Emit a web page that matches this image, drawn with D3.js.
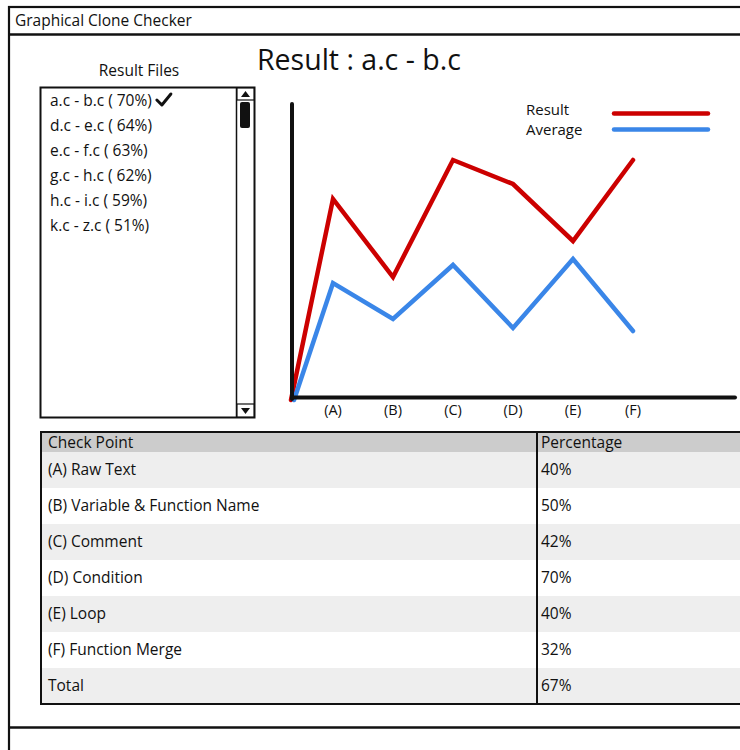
<!DOCTYPE html>
<html><head><meta charset="utf-8">
<script src="https://cdn.jsdelivr.net/npm/d3@7/dist/d3.min.js"></script>
<style>
html,body{margin:0;padding:0;background:#fff;}
svg text{font-family:"Open Sans","Noto Sans",sans-serif;fill:#111;}
</style></head>
<body><svg id="c" width="740" height="750"></svg>
<script>
const appTitle = "Graphical Clone Checker";
const chartTitle = "Result : a.c - b.c";
const fileListTitle = "Result Files";
const resultFiles = ["a.c - b.c ( 70%)", "d.c - e.c ( 64%)", "e.c - f.c ( 63%)", "g.c - h.c ( 62%)", "h.c - i.c ( 59%)", "k.c - z.c ( 51%)"];
const categories = ["(A)", "(B)", "(C)", "(D)", "(E)", "(F)"];
const resultValues = [67, 41, 80, 72, 53, 80];
const averageValues = [39, 27, 45, 24, 47, 23];
const seriesNames = ["Result", "Average"];
const seriesColors = ["#cc0000", "#3a86e8"];
const tableHeaders = ["Check Point", "Percentage"];
const checkPoints = ["(A) Raw Text", "(B) Variable & Function Name", "(C) Comment", "(D) Condition", "(E) Loop", "(F) Function Merge", "Total"];
const percentages = ["40%", "50%", "42%", "70%", "40%", "32%", "67%"];

const svg = d3.select("#c");
const FS = 15.5;

// window frame
svg.append("rect").attr("x",9).attr("y",7).attr("width",760).attr("height",800)
  .attr("fill","none").attr("stroke","#111").attr("stroke-width",2.2);
svg.append("line").attr("x1",9).attr("x2",740).attr("y1",34.5).attr("y2",34.5).attr("stroke","#111").attr("stroke-width",2.5);
svg.append("line").attr("x1",9).attr("x2",740).attr("y1",727.5).attr("y2",727.5).attr("stroke","#111").attr("stroke-width",2.5);
svg.append("text").attr("x",15).attr("y",26).attr("font-size",FS).text(appTitle);

// title
svg.append("text").attr("x",257).attr("y",70).attr("font-size",28.5).text(chartTitle);

// file list
svg.append("text").attr("x",139).attr("y",76).attr("font-size",FS).attr("text-anchor","middle").text(fileListTitle);
svg.append("rect").attr("x",40.5).attr("y",87.5).attr("width",214).attr("height",330)
  .attr("fill","#fff").attr("stroke","#111").attr("stroke-width",2);
svg.append("line").attr("x1",236.5).attr("x2",236.5).attr("y1",88).attr("y2",417).attr("stroke","#111").attr("stroke-width",1.5);
svg.append("rect").attr("x",237).attr("y",88).attr("width",17).attr("height",12).attr("fill","#fff").attr("stroke","#111").attr("stroke-width",1.2);
svg.append("path").attr("d","M241,97 L245.5,91 L250,97 Z").attr("fill","#111");
svg.append("rect").attr("x",240).attr("y",102).attr("width",10).attr("height",26).attr("rx",2).attr("fill","#111");
svg.append("rect").attr("x",237).attr("y",404).attr("width",17).attr("height",13).attr("fill","#fff").attr("stroke","#111").attr("stroke-width",1.2);
svg.append("path").attr("d","M241,408 L250,408 L245.5,414 Z").attr("fill","#111");
const listY = d3.scaleLinear().domain([0,1]).range([106, 131]);
const items = svg.append("g").selectAll("text").data(resultFiles).join("text")
  .attr("x",50).attr("y",(d,i)=>listY(i)).attr("font-size",FS).text(d=>d);
// check mark after first item
const w0 = items.node().getComputedTextLength();
const cx = 50 + w0 + 5;
svg.append("path").attr("d",`M${cx},100 L${cx+5},105 L${cx+14},94`).attr("fill","none").attr("stroke","#111").attr("stroke-width",3).attr("stroke-linecap","round").attr("stroke-linejoin","round");

// chart
const x0 = 291;
const x = d3.scalePoint().domain(categories).range([333, 633]);
const y = d3.scaleLinear().domain([0, 100]).range([400, 100]);
const g = svg.append("g");
const line = d3.line().x(d=>d[0]).y(d=>d[1]);
[resultValues, averageValues].forEach((vals, si) => {
  const pts = [[x0 + (si? 3:0), y(0)]].concat(vals.map((v,i)=>[x(categories[i]), y(v)]));
  g.append("path").attr("d", line(pts)).attr("fill","none")
    .attr("stroke", seriesColors[si]).attr("stroke-width",4.5)
    .attr("stroke-linejoin","miter").attr("stroke-linecap","round");
});
// axes
g.append("line").attr("x1",292).attr("x2",292).attr("y1",104).attr("y2",399).attr("stroke","#111").attr("stroke-width",4).attr("stroke-linecap","round");
g.append("line").attr("x1",292).attr("x2",735).attr("y1",397.5).attr("y2",397.5).attr("stroke","#111").attr("stroke-width",4).attr("stroke-linecap","round");
g.append("g").selectAll("text").data(categories).join("text")
  .attr("x",d=>x(d)).attr("y",415).attr("font-size",14.5).attr("text-anchor","middle").text(d=>d);
// legend
seriesNames.forEach((n,i)=>{
  svg.append("text").attr("x",526).attr("y",115 + i*20).attr("font-size",FS - 0.5).text(n);
  svg.append("line").attr("x1",614).attr("x2",708).attr("y1",113.5 + i*16).attr("y2",113.5 + i*16)
    .attr("stroke",seriesColors[i]).attr("stroke-width",4.5).attr("stroke-linecap","round");
});

// table
const tX = 41, tY = 432, headH = 20, rowH = 36, colX = 537, tRight = 760;
const tg = svg.append("g");
tg.append("rect").attr("x",tX).attr("y",tY).attr("width",tRight-tX).attr("height",headH).attr("fill","#cccccc");
const rowY = d3.scaleLinear().domain([0,1]).range([tY+headH, tY+headH+rowH]);
tg.selectAll("rect.row").data(checkPoints).join("rect").attr("class","row")
  .attr("x",tX).attr("y",(d,i)=>rowY(i)).attr("width",tRight-tX).attr("height",rowH)
  .attr("fill",(d,i)=>i%2===0?"#eeeeee":"#ffffff");
tg.append("text").attr("x",48).attr("y",tY+16).attr("font-size",FS).text(tableHeaders[0]);
tg.append("text").attr("x",541).attr("y",tY+16).attr("font-size",FS).text(tableHeaders[1]);
tg.selectAll("text.cp").data(checkPoints).join("text").attr("class","cp")
  .attr("x",48).attr("y",(d,i)=>rowY(i)+rowH/2+5).attr("font-size",FS).text(d=>d);
tg.selectAll("text.pc").data(percentages).join("text").attr("class","pc")
  .attr("x",541).attr("y",(d,i)=>rowY(i)+rowH/2+5).attr("font-size",FS).text(d=>d);
tg.append("rect").attr("x",tX).attr("y",tY).attr("width",tRight-tX).attr("height",headH+rowH*checkPoints.length)
  .attr("fill","none").attr("stroke","#111").attr("stroke-width",2);
tg.append("line").attr("x1",colX).attr("x2",colX).attr("y1",tY).attr("y2",tY+headH+rowH*checkPoints.length).attr("stroke","#111").attr("stroke-width",2);
</script></body></html>
